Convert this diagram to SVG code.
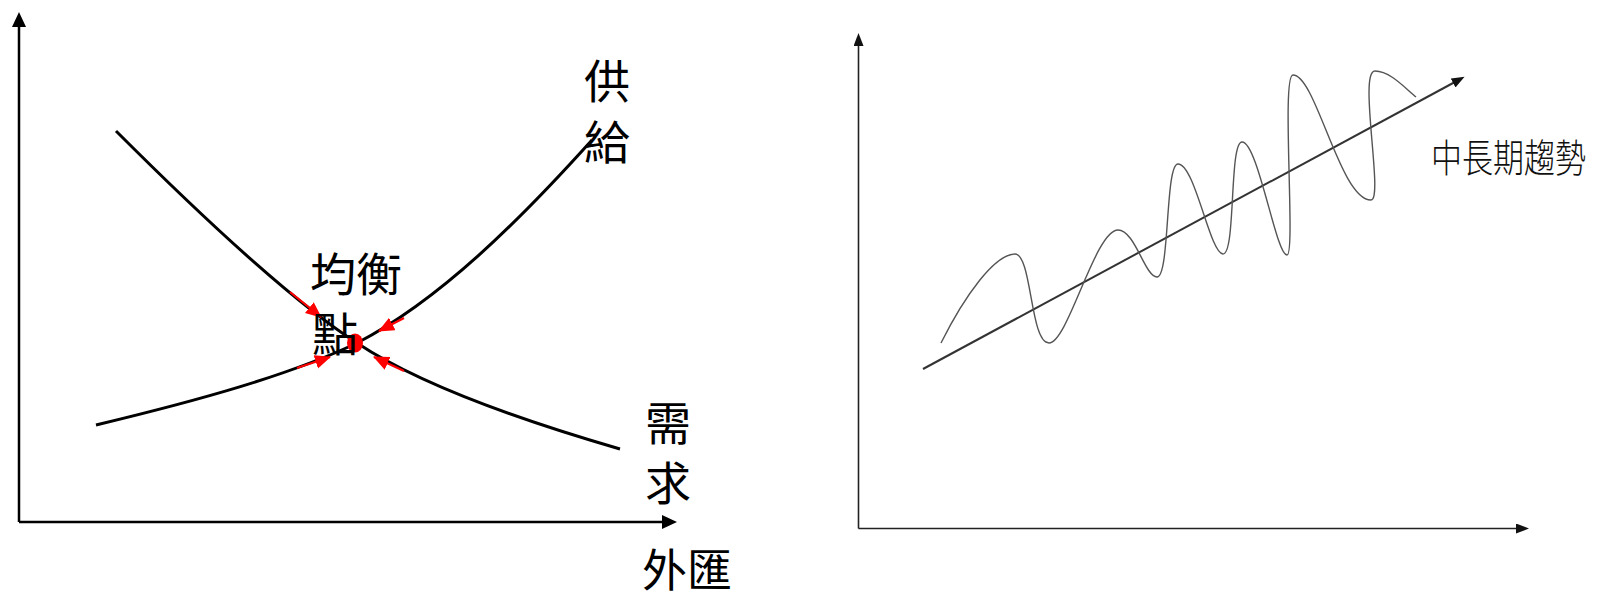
<svg xmlns="http://www.w3.org/2000/svg" width="1597" height="599" viewBox="0 0 1597 599">
  <style>
    .axisL { fill: none; stroke: #000; stroke-width: 2.5; }
    .axisR { fill: none; stroke: #222; stroke-width: 1.6; }
    .curve { fill: none; stroke: #000; stroke-width: 3; }
    .wave { fill: none; stroke: #555; stroke-width: 1.4; }
    .trend { fill: none; stroke: #333; stroke-width: 2; }
    .red { fill: none; stroke: #f00; stroke-width: 2.2; }
    .lbl { font-family: "Noto Sans CJK TC", "Noto Sans CJK SC", sans-serif; font-size: 46px; fill: #000; }
    .lblR { font-family: "Noto Sans CJK TC", "Noto Sans CJK SC", sans-serif; font-size: 31px; fill: #111; font-weight: 300; }
  </style>
  <defs>
    <marker id="arrL" markerUnits="userSpaceOnUse" markerWidth="16" markerHeight="15" refX="1" refY="7" orient="auto">
      <path d="M0,0 L15,7 L0,14 z" fill="#000"/>
    </marker>
    <marker id="arrR" markerUnits="userSpaceOnUse" markerWidth="14" markerHeight="11" refX="1" refY="5" orient="auto">
      <path d="M0,0 L13,5 L0,10 z" fill="#111"/>
    </marker>
    <marker id="arrRed" markerUnits="userSpaceOnUse" markerWidth="18" markerHeight="15" refX="15" refY="7" orient="auto">
      <path d="M0,0 L16,7 L0,14 z" fill="#f00"/>
    </marker>
  </defs>
  <rect width="1597" height="599" fill="#fff"/>

  <g id="left-axes">
    <path class="axisL" d="M19,522 L19,26" marker-end="url(#arrL)"/>
    <path class="axisL" d="M19,522 L663,522" marker-end="url(#arrL)"/>
  </g>

  <g id="demand-curve">
    <path class="curve" d="M116,131 C200,215 290,300 357,343 C420,385 520,420 620,449"/>
  </g>
  <g id="supply-curve">
    <path class="curve" d="M96,425 C200,400 290,375 357,343 C440,300 520,220 592,140"/>
  </g>

  <g id="equilibrium-point">
    <ellipse cx="355" cy="343" rx="8" ry="9.5" fill="#f00"/>
  </g>

  <g id="connectors">
    <path class="red" d="M290,292 L321,317" marker-end="url(#arrRed)"/>
    <path class="red" d="M404,318 L379,331" marker-end="url(#arrRed)"/>
    <path class="red" d="M297,368 L330,357" marker-end="url(#arrRed)"/>
    <path class="red" d="M404,371 L374,357" marker-end="url(#arrRed)"/>
  </g>

  <g id="labels-left">
    <text class="lbl" x="584" y="98">供</text>
    <text class="lbl" x="584" y="159">給</text>
    <text class="lbl" x="310" y="291">均衡</text>
    <text class="lbl" x="312" y="351">點</text>
    <text class="lbl" x="645" y="440">需</text>
    <text class="lbl" x="645" y="500">求</text>
    <text class="lbl" x="642" y="587" style="font-size:45px">外匯</text>
  </g>

  <g id="right-axes">
    <path class="axisR" d="M858.5,528.5 L858.5,45" marker-end="url(#arrR)"/>
    <path class="axisR" d="M858.5,528.5 L1517,528.5" marker-end="url(#arrR)"/>
  </g>

  <g id="trend-arrow">
    <path class="trend" d="M923,369 L1454,82.5" marker-end="url(#arrR)"/>
  </g>

  <g id="wave">
    <path class="wave" d="M941,343 C965,295 995,254 1015,254 C1032,254 1030,343 1049,343 C1068,343 1095,230 1118,230 C1135,230 1145,277 1157,277 C1170,277 1165,164 1178,164 C1195,164 1210,254 1223,254 C1236,254 1229,142 1242,142 C1258,142 1276,255 1287,255 C1296,255 1281,75 1293,75 C1316,75 1340,200 1371,200 C1384,200 1358,71 1375,71 C1390,71 1405,88 1416,97"/>
  </g>

  <g id="trend-label">
    <text class="lblR" transform="translate(1431,172) scale(1,1.25)" x="0" y="0">中長期趨勢</text>
  </g>
</svg>
